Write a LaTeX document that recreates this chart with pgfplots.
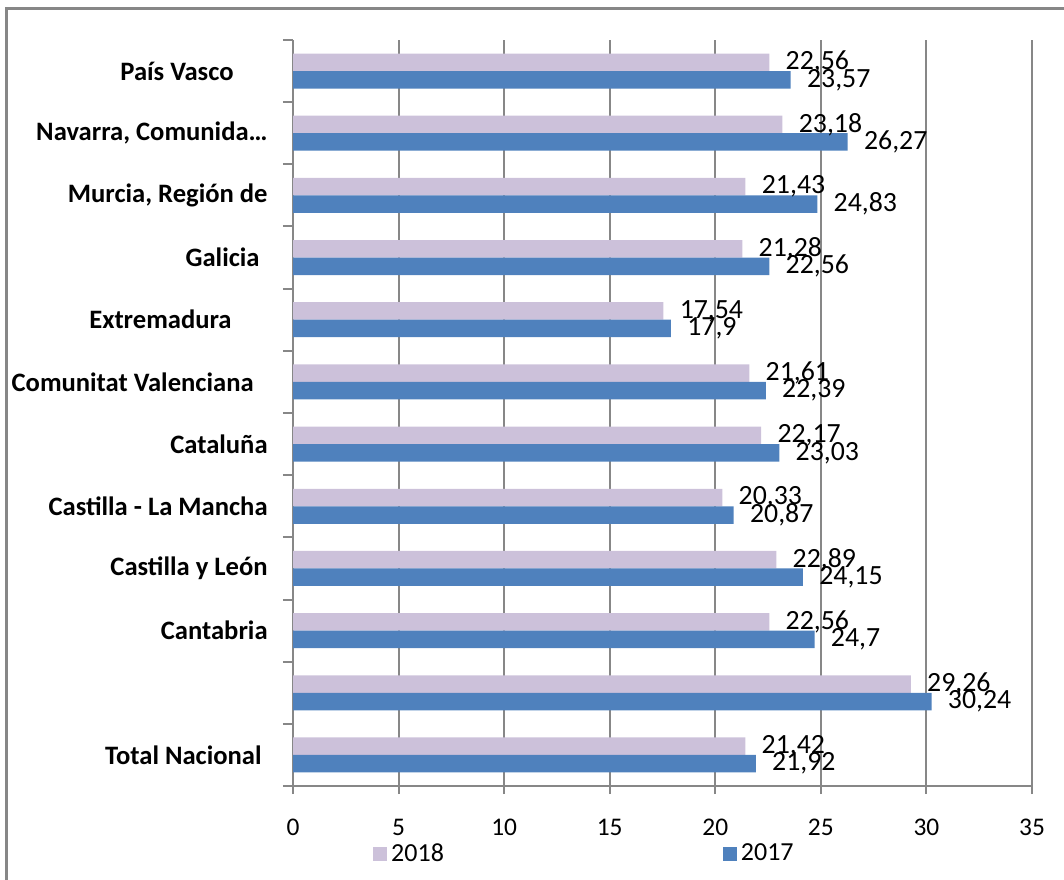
\documentclass[border=0pt]{standalone}
\usepackage{fontspec}
\setmainfont{Carlito}
\usepackage{pgfplots}
\pgfplotsset{compat=1.18}
\definecolor{lila}{HTML}{CCC1DA}
\definecolor{azul}{HTML}{4F81BD}
\definecolor{rejilla}{HTML}{878787}
\newcommand{\fs}{\fontsize{12.7}{15}\selectfont}

\begin{document}
\begin{tikzpicture}
\useasboundingbox (0,0) rectangle (532pt,439.5pt);
% marco del grafico (solo lados izquierdo y superior visibles)
\draw[rejilla, line width=1.5pt] (3pt,-3pt) -- (3pt,435pt) -- (540pt,435pt);
\begin{axis}[
  at={(146.5pt,46.5pt)}, anchor=south west,
  scale only axis, width=369.5pt, height=373pt,
  xbar, bar width=8.75pt,
  xmin=0, xmax=35, ymin=-0.5, ymax=11.5,
  xtick={0,5,10,15,20,25,30,35},
  ytick={0,1,2,3,4,5,6,7,8,9,10,11},
  yticklabels={Total Nacional\kern3pt, {}, Cantabria, Castilla y León,
    Castilla - La Mancha, Cataluña, Comunitat Valenciana\kern7pt,
    Extremadura\kern18pt, Galicia\kern4pt, {Murcia, Región de},
    {Navarra, Comunida…}, País Vasco\kern17pt},
  minor ytick={-0.5,0.5,1.5,2.5,3.5,4.5,5.5,6.5,7.5,8.5,9.5,10.5,11.5},
  axis x line*=bottom, axis y line*=left,
  axis line style={rejilla, line width=1pt, -},
  tick align=outside,
  major tick length=4pt, minor tick length=5pt,
  every major y tick/.append style={draw=none},
  every minor y tick/.append style={rejilla, line width=1pt},
  every major x tick/.append style={rejilla, line width=1pt},
  xmajorgrids, major grid style={rejilla, line width=1pt},
  /pgf/number format/assume math mode=true,
  xticklabel style={font=\fs, yshift=-9pt},
  yticklabel style={font=\fontsize{13.3}{16}\selectfont\bfseries, anchor=east, inner sep=0pt, xshift=-8.5pt},
  point meta=x,
  nodes near coords={\pgfmathprintnumber[use comma,precision=2,assume math mode=true]{\pgfplotspointmeta}},
  nodes near coords style={font=\fontsize{13.9}{16}\selectfont, anchor=west, inner sep=0pt, xshift=8pt},
  legend columns=2,
  legend style={draw=none, fill=none, at={(0.108,-0.091)}, anchor=west,
    inner sep=0pt, font=\fontsize{13}{15}\selectfont,
    /tikz/every even column/.append style={column sep=137.5pt}},
  legend image code/.code={\fill[#1] (0pt,-3.5pt) rectangle (7pt,3.5pt);},
]
\addplot[fill=lila, draw=none, bar shift=4.375pt] coordinates {
  (21.42,0) (29.26,1) (22.56,2) (22.89,3) (20.33,4) (22.17,5)
  (21.61,6) (17.54,7) (21.28,8) (21.43,9) (23.18,10) (22.56,11)};
\addplot[fill=azul, draw=none, bar shift=-4.375pt] coordinates {
  (21.92,0) (30.24,1) (24.7,2) (24.15,3) (20.87,4) (23.03,5)
  (22.39,6) (17.9,7) (22.56,8) (24.83,9) (26.27,10) (23.57,11)};
\legend{2018,2017}
\end{axis}
\end{tikzpicture}
\end{document}
